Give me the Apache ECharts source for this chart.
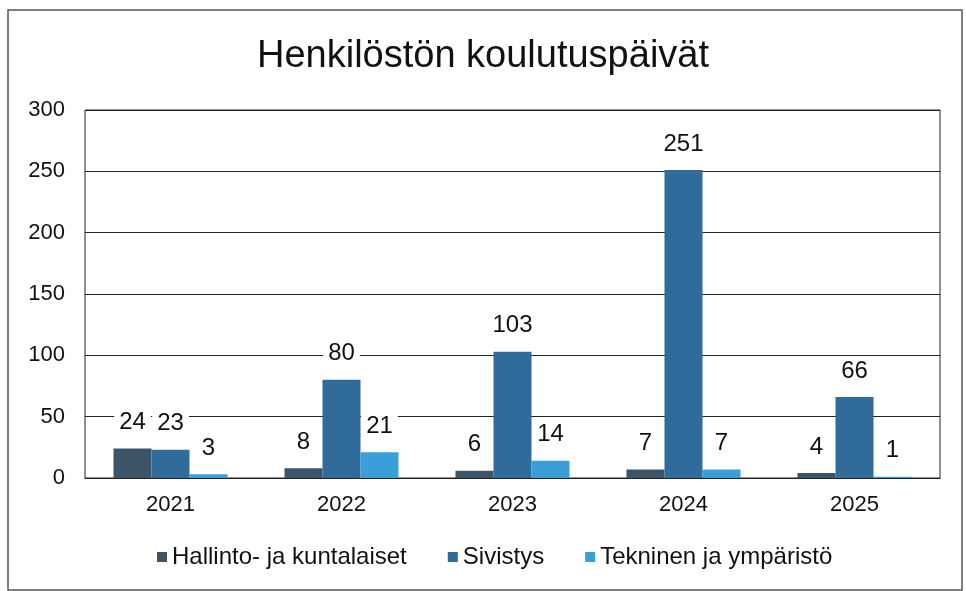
<!DOCTYPE html>
<html lang="fi">
  <head>
    <meta charset="UTF-8" />
    <title>Henkilöstön koulutuspäivät</title>
    <script src="https://cdn.jsdelivr.net/npm/echarts@6/dist/echarts.min.js"></script>
    <style>
      body { margin: 0; background: #fff; }
      .con { width: 966px; height: 591px; }
    </style>
  </head>
  <body>
    <div class="con"></div>
    <script>
      // data
      let years = ["2021", "2022", "2023", "2024", "2025"];
      let seriesNames = ["Hallinto- ja kuntalaiset", "Sivistys", "Tekninen ja ympäristö"];
      let hallinto = [24, 8, 6, 7, 4];
      let sivistys = [23, 80, 103, 251, 66];
      let tekninen = [3, 21, 14, 7, 1];
      let colors = ["#3b5468", "#2f6c9c", "#3a9ed8"];

      let font = "Liberation Sans, Arial, sans-serif";
      let mychart = echarts.init(document.querySelector(".con"));

      function bar(name, data, color) {
        return {
          name: name,
          type: "bar",
          data: data,
          barWidth: 38,
          barGap: "0%",
          itemStyle: { color: color },
          label: {
            show: true,
            position: "top",
            distance: 12,
            color: "#111",
            fontSize: 24,
            fontFamily: font,
            backgroundColor: "#fff",
            padding: [2, 5],
          },
        };
      }

      let options = {
        backgroundColor: "#fff",
        title: {
          text: "Henkilöstön koulutuspäivät",
          left: "center",
          top: 33,
          textStyle: { fontSize: 38, fontWeight: "normal", color: "#111", fontFamily: font },
        },
        graphic: [
          {
            type: "rect",
            shape: { x: 8, y: 10, width: 954, height: 580 },
            style: { fill: null, stroke: "#555", lineWidth: 1.5 },
            silent: true,
          },
        ],
        legend: {
          left: 152,
          bottom: 17,
          itemWidth: 10,
          itemHeight: 10,
          itemGap: 41,
          icon: "rect",
          textStyle: { fontSize: 24, color: "#111", fontFamily: font },
          data: seriesNames,
        },
        grid: {
          left: 85,
          right: 26,
          top: 110,
          bottom: 113,
          show: true,
          borderColor: "#222",
          borderWidth: 1,
        },
        xAxis: {
          type: "category",
          data: years,
          axisLine: { lineStyle: { color: "#222" } },
          axisTick: { show: false },
          axisLabel: { fontSize: 22, color: "#111", fontFamily: font, margin: 16 },
        },
        yAxis: {
          type: "value",
          min: 0,
          max: 300,
          interval: 50,
          axisLine: { show: false },
          axisLabel: { fontSize: 22, color: "#111", fontFamily: font, margin: 20 },
          splitLine: { lineStyle: { color: "#222", width: 1.2 } },
        },
        series: [
          bar(seriesNames[0], hallinto, colors[0]),
          bar(seriesNames[1], sivistys, colors[1]),
          bar(seriesNames[2], tekninen, colors[2]),
        ],
      };
      mychart.setOption(options);
    </script>
  </body>
</html>
